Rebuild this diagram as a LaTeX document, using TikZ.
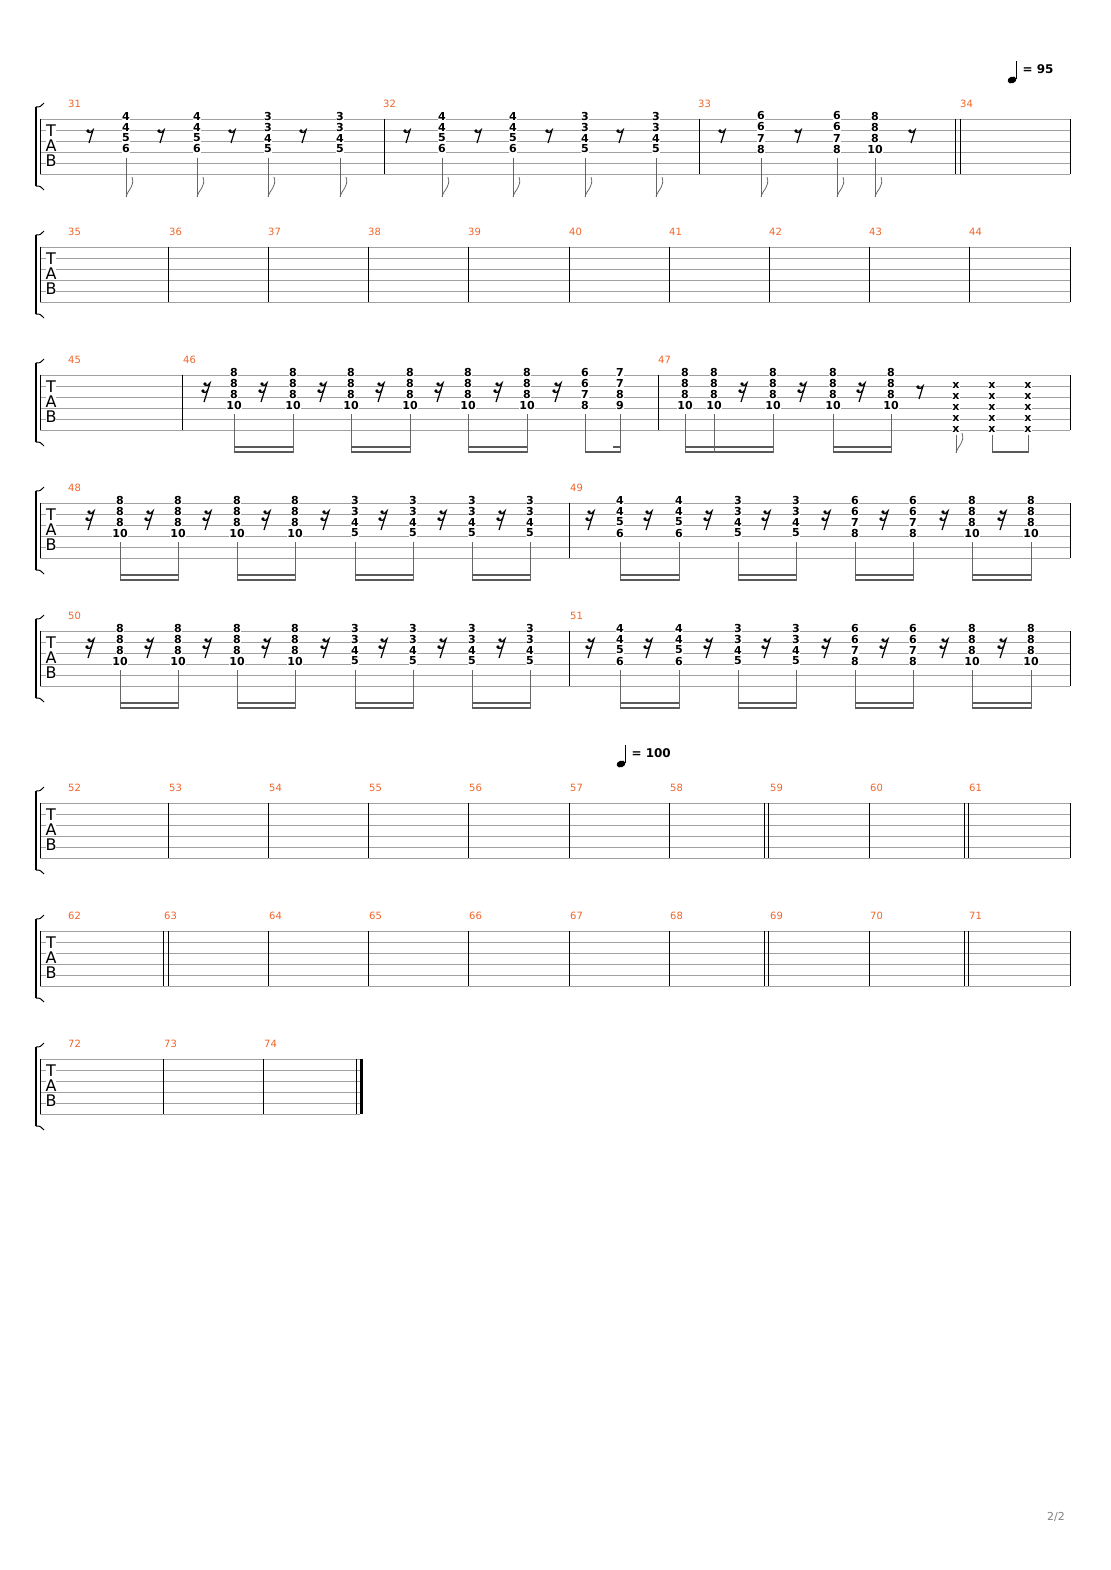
\documentclass[tikz,border=0pt]{standalone}
\usepackage{fontspec}
\setmainfont{DejaVu Sans}
\usepackage{tikz}

\definecolor{barnum}{RGB}{240,100,40}
\definecolor{staffgray}{RGB}{160,160,160}

\tikzset{
  fret/.style={fill=white,inner sep=0.4pt,font=\fontsize{11}{11}\selectfont\bfseries},
  barno/.style={font=\fontsize{10}{10}\selectfont,text=barnum,anchor=south west,inner sep=0pt},
  stem/.style={draw=gray!80!black,line width=0.8pt},
  beam/.style={draw=gray!70!black,line width=2pt},
  tabletter/.style={font=\fontsize{16}{16}\selectfont,fill=white,inner sep=0pt}
}

% fret numbers stacked from the first string down
\newcommand\tabchord[3]{\edef\fretlist{#3}%
  \foreach \f [count=\s] in \fretlist {\node[fret] at (#1,{#2-3+11*(\s-1)}) {\f};}}
% eighth rest, centre at (x,y)
\newcommand\erest[2]{\fill (#1-2,#2-5) circle (1.8);
  \draw[line width=1.2pt] (#1-2,#2-4) .. controls (#1,#2-3) .. (#1+3,#2-6) -- (#1-1,#2+7);}
% sixteenth rest
\newcommand\srest[2]{\fill (#1-1,#2-8) circle (1.8); \fill (#1-3,#2-1) circle (1.8);
  \draw[line width=1.2pt] (#1-1,#2-7) .. controls (#1+1,#2-6) .. (#1+4,#2-9) -- (#1-2,#2+10);
  \draw[line width=1.2pt] (#1-3,#2) .. controls (#1-1,#2+1) .. (#1+2,#2-2);}
% single eighth with flag
\newcommand\flagnote[2]{\draw[stem] (#1,#2+39) -- (#1,#2+78);
  \draw[stem] (#1,#2+78) .. controls (#1+2,#2+70) and (#1+9,#2+68) .. (#1+6,#2+58);}
% pair of sixteenths on a double beam
\newcommand\spair[3]{\draw[stem] (#1,#2+39) -- (#1,#2+78); \draw[stem] (#3,#2+39) -- (#3,#2+78);
  \draw[beam] (#1,#2+72) -- (#3,#2+72); \draw[beam] (#1,#2+77) -- (#3,#2+77);}
% staff with T A B and bracket
\newcommand\tabstaff[2]{%
  \foreach \k in {0,...,5} {\draw[staffgray,line width=0.5pt] (40,#1+11*\k) -- (#2,#1+11*\k);}
  \draw[line width=0.6pt] (40,#1) -- (40,#1+55);
  \draw[line width=1.6pt] (36,#1-12) -- (36,#1+67);
  \draw[line width=1pt] (36,#1-12) .. controls (40,#1-12) .. (44,#1-16);
  \draw[line width=1pt] (36,#1+67) .. controls (40,#1+67) .. (44,#1+71);
  \node[tabletter] at (51,#1+12) {T};
  \node[tabletter] at (51,#1+27) {A};
  \node[tabletter] at (51,#1+42) {B};}
\newcommand\barline[2]{\draw[line width=0.7pt] (#1,#2) -- (#1,#2+55);}

\begin{document}
\begin{tikzpicture}[x=1pt,y=-1pt]
\useasboundingbox (0,0) rectangle (1110,1570);

% tempo marks
\fill[rotate around={20:(1012,80)}] (1012,80) ellipse (4.5 and 3.3); \draw[line width=0.9pt] (1016,79) -- (1016,61);
\node[anchor=west,font=\fontsize{12}{12}\selectfont\bfseries] (t95) at (1019,69) {= 95};
\fill[rotate around={20:(621,764)}] (621,764) ellipse (4.5 and 3.3); \draw[line width=0.9pt] (625,763) -- (625,745);
\node[anchor=west,font=\fontsize{12}{12}\selectfont\bfseries] (t100) at (628,753) {= 100};

% system 1
\tabstaff{119}{1070}
\foreach \x/\n in {73/31,388/32,703/33,965/34} {\node[barno] at (\x-5,108) {\n};}
\foreach \x in {384,699,955,960,1070} {\barline{\x}{119}}
\foreach \x in {90,161,232,303,407,478,549,620,722,798,912} {\erest{\x}{136}}
\foreach \x/\ch in {126/{4,4,5,6},197/{4,4,5,6},268/{3,3,4,5},340/{3,3,4,5},
  442/{4,4,5,6},513/{4,4,5,6},585/{3,3,4,5},656/{3,3,4,5},
  761/{6,6,7,8},837/{6,6,7,8},875/{8,8,8,10}} {\tabchord{\x}{119}{\ch}\flagnote{\x}{119}}

% system 2
\tabstaff{247}{1070}
\foreach \x [count=\i from 35] in {73,174,273,373,473,574,674,774,874,974} {\node[barno] at (\x-5,236) {\i};}
\foreach \x in {168,268,368,468,569,669,769,869,969,1070} {\barline{\x}{247}}

% system 3
\tabstaff{375}{1070}
\foreach \x/\n in {73/45,188/46,663/47} {\node[barno] at (\x-5,364) {\n};}
\foreach \x in {182,658,1070} {\barline{\x}{375}}
\foreach \x in {206,263,322,380,439,498,557,743,802,861} {\srest{\x}{392}}
\erest{920}{392}
\foreach \x in {234,293,351,410,468,527,685,714,773,833,891} {\tabchord{\x}{375}{8,8,8,10}}
\tabchord{585}{375}{6,6,7,8} \tabchord{620}{375}{7,7,8,9}
\spair{234}{375}{293} \spair{351}{375}{410} \spair{468}{375}{527}
\spair{685}{375}{773} \draw[stem] (714,414) -- (714,453); \spair{833}{375}{891}
\draw[stem] (585,414) -- (585,453); \draw[stem] (620,414) -- (620,453);
\draw[beam] (585,452) -- (620,452); \draw[beam] (613,447) -- (620,447);
\foreach \x in {956,992,1028} {\foreach \s in {1,...,5} {\node[fret] at (\x,374+11*\s) {x};}}
\draw[stem] (956,435) -- (956,453);
\draw[stem] (956,453) .. controls (958,445) and (965,443) .. (962,433);
\draw[stem] (992,435) -- (992,453); \draw[stem] (1028,435) -- (1028,453);
\draw[beam] (992,452) -- (1028,452);

% systems 4 and 5
\foreach \sy/\na in {503/48,631/50} {
  \tabstaff{\sy}{1070}
  \node[barno] at (68,\sy-11) {\na};
  \pgfmathtruncatemacro\nb{\na+1}
  \node[barno] at (570,\sy-11) {\nb};
  \barline{569}{\sy} \barline{1070}{\sy}
  \foreach \x in {90,149,207,266,325,383,442,501,590,648,708,766,826,884,944,1002} {\srest{\x}{\sy+17}}
  \foreach \x/\ch in {120/{8,8,8,10},178/{8,8,8,10},237/{8,8,8,10},295/{8,8,8,10},
    355/{3,3,4,5},413/{3,3,4,5},472/{3,3,4,5},530/{3,3,4,5},
    620/{4,4,5,6},679/{4,4,5,6},738/{3,3,4,5},796/{3,3,4,5},
    855/{6,6,7,8},913/{6,6,7,8},972/{8,8,8,10},1031/{8,8,8,10}} {\tabchord{\x}{\sy}{\ch}}
  \foreach \a/\b in {120/178,237/295,355/413,472/530,620/679,738/796,855/913,972/1031} {\spair{\a}{\sy}{\b}}
}

% systems 6 and 7
\tabstaff{803}{1070}
\foreach \x [count=\i from 52] in {73,174,274,374,474,575,675,775,875,974} {\node[barno] at (\x-5,792) {\i};}
\foreach \x in {168,268,368,468,569,669,764,768,869,964,968,1070} {\barline{\x}{803}}
\tabstaff{931}{1070}
\foreach \x [count=\i from 62] in {73,169,274,374,474,575,675,775,875,974} {\node[barno] at (\x-5,920) {\i};}
\foreach \x in {163,168,268,368,468,569,669,764,768,869,964,968,1070} {\barline{\x}{931}}

% system 8
\tabstaff{1059}{360}
\foreach \x/\n in {73/72,169/73,269/74} {\node[barno] at (\x-5,1048) {\n};}
\foreach \x in {163,263,356} {\barline{\x}{1059}}
\draw[line width=3pt] (361.5,1059) -- (361.5,1114);

\node[font=\fontsize{11}{11}\selectfont,text=gray] (pg) at (1056,1517) {2/2};
\end{tikzpicture}
\end{document}
